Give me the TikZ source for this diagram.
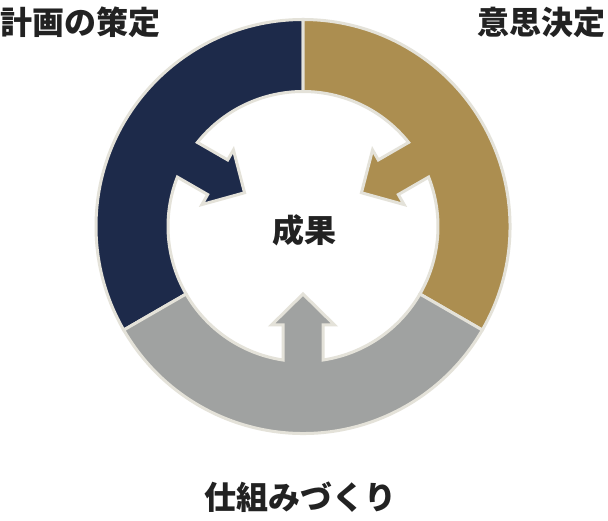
\documentclass[tikz,border=0pt]{standalone}
\usepackage{fontspec}
\newfontfamily\jp{Noto Sans CJK JP}
\definecolor{navyc}{HTML}{1D2A4A}
\definecolor{goldc}{HTML}{AC8E50}
\definecolor{grayc}{HTML}{A0A2A1}
\definecolor{edgec}{HTML}{E4E2D9}
\definecolor{txtc}{HTML}{222222}
\tikzset{
  seg/.style={draw=edgec, line width=3, line join=miter},
  lbl/.style={inner sep=0, text=txtc, font=\jp\bfseries\fontsize{32}{32}\selectfont},
}
\newcommand{\segpath}{(-60:207) arc[start angle=-60, end angle=60, radius=207] -- (60:135) arc[start angle=60, end angle=8.52, radius=135] -- (98.5,20) -- (98.5,31.5) -- (67.5,0) -- (98.5,-31.5) -- (98.5,-20) -- (-8.52:135) arc[start angle=-8.52, end angle=-60, radius=135] -- cycle}
\begin{document}
\begin{tikzpicture}[x=1pt,y=1pt]
\path[fill=white,use as bounding box] (0,0) rectangle (608,520);
\begin{scope}[shift={(303,293.5)}, rotate=150]
\path[seg, fill=navyc] \segpath;
\end{scope}
\begin{scope}[shift={(303,293.5)}, rotate=30]
\path[seg, fill=goldc] \segpath;
\end{scope}
\begin{scope}[shift={(303,293.5)}, rotate=270]
\path[seg, fill=grayc] \segpath;
\end{scope}
\node[lbl, anchor=west] (plan) at (0,497.5) {計画の策定};
\node[lbl, anchor=east] (dec) at (606,497.5) {意思決定};
\node[lbl] (sys) at (300.5,22.5) {仕組みづくり};
\node[lbl, font=\jp\bfseries\fontsize{32}{32}\selectfont] (res) at (304,290) {成果};
\end{tikzpicture}
\end{document}
